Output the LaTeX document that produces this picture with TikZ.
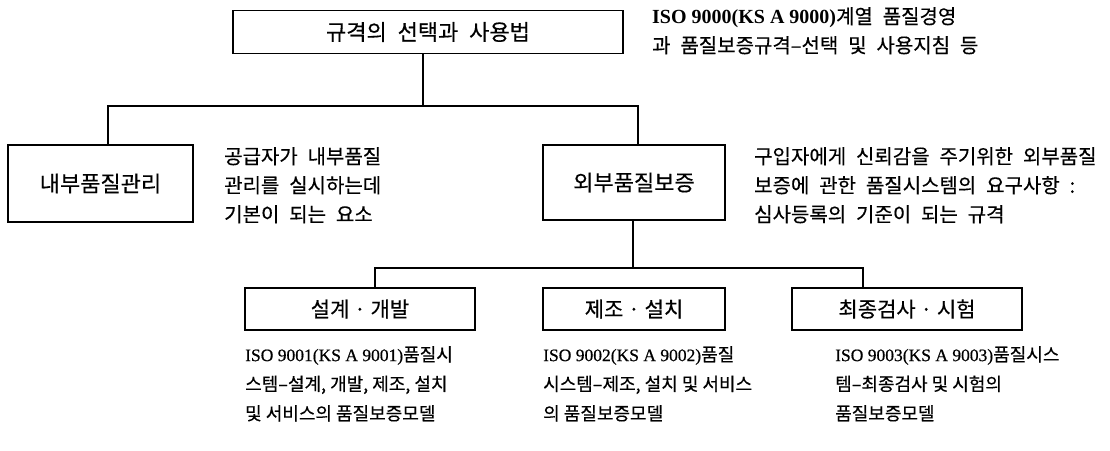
\documentclass[tikz,border=0pt]{standalone}
\usepackage{fontspec}
\setmainfont{Noto Sans CJK KR}[FakeBold=0.4]
\newfontfamily\widekr{Noto Sans CJK KR}[WordSpace=2.2,FakeBold=0.4]
\newfontfamily\lat{Liberation Serif}
\newfontfamily\latmed{Liberation Serif}[FakeBold=0.6]
\begin{document}
\begin{tikzpicture}[x=1pt,y=-1pt,
  box/.style={draw, line width=1.3pt, inner sep=0, font=\widekr\fontsize{22}{26}\selectfont},
  sbox/.style={draw, line width=1.3pt, inner sep=0, font=\fontsize{21}{26}\selectfont},
  desc/.style={anchor=north west, align=left, inner sep=0, font=\widekr\fontsize{20}{29}\selectfont},
  bdesc/.style={anchor=north west, align=left, inner sep=0, font=\fontsize{18}{29.5}\selectfont},
  link/.style={line width=1.1pt}]
\useasboundingbox[fill=white] (0,0) rectangle (1110,450);
% boxes
\node[box, minimum width=390, minimum height=43] (top) at (428,32) {규격의 선택과 사용법};
\node[box, minimum width=185, minimum height=77] (lbox) at (100.5,183.5) {내부품질관리};
\node[box, minimum width=182, minimum height=75] (rbox) at (634,182.5) {외부품질보증};
\node[sbox, minimum width=230, minimum height=42] (b1) at (360,309) {설계 · 개발};
\node[sbox, minimum width=182, minimum height=42] (b2) at (634,309) {제조 · 설치};
\node[sbox, minimum width=230, minimum height=42] (b3) at (907,309) {최종검사 · 시험};
% descriptions
\node[desc] (dtop) at (652,7) {{\lat\bfseries\fontsize{20}{29}\selectfont ISO 9000(KS A 9000)}계열 품질경영\\과 품질보증규격–선택 및 사용지침 등};
\node[desc] (dl) at (224,147) {공급자가 내부품질\\관리를 실시하는데\\기본이 되는 요소};
\node[desc] (dr) at (754,147) {구입자에게 신뢰감을 주기위한 외부품질\\보증에 관한 품질시스템의 요구사항 :\\심사등록의 기준이 되는 규격};
\node[bdesc] (d1) at (245,346) {{\latmed\fontsize{17.5}{29.5}\selectfont ISO 9001(KS A 9001)}품질시\\스템–설계, 개발, 제조, 설치\\및 서비스의 품질보증모델};
\node[bdesc] (d2) at (543,346) {{\latmed\fontsize{17.5}{29.5}\selectfont ISO 9002(KS A 9002)}품질\\시스템–제조, 설치 및 서비스\\의 품질보증모델};
\node[bdesc] (d3) at (835,346) {{\latmed\fontsize{17.5}{29.5}\selectfont ISO 9003(KS A 9003)}품질시스\\템–최종검사 및 시험의\\품질보증모델};
% connectors
\coordinate (j1) at (423,106);
\coordinate (jl) at (108,106);
\coordinate (jr) at (638,106);
\draw[link] (top.south -| j1) -- (j1);
\draw[link] (lbox.north -| jl) -- (jl) -- (jr) -- (rbox.north -| jr);
\coordinate (j2) at (633,268);
\coordinate (jb1) at (375,268);
\coordinate (jb3) at (863,268);
\draw[link] (rbox.south -| j2) -- (j2);
\draw[link] (b1.north -| jb1) -- (jb1) -- (jb3) -- (b3.north -| jb3);
\end{tikzpicture}
\end{document}
